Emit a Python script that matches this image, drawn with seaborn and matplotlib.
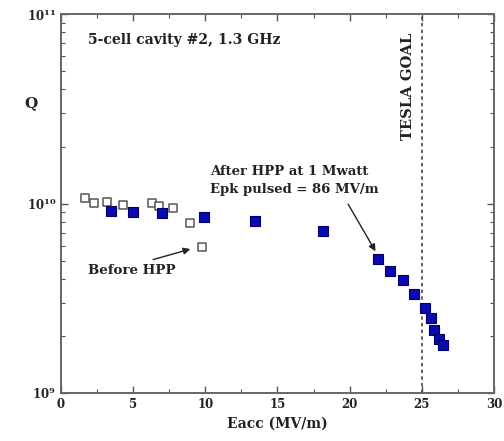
import numpy as np
import pandas as pd
import matplotlib
matplotlib.use("Agg")
import matplotlib.pyplot as plt
from matplotlib.ticker import MultipleLocator, LogLocator, FuncFormatter, NullFormatter
import seaborn as sns

# Accelerating gradient (MV/m) and quality factor Q
before_eacc = [1.66, 2.31, 3.17, 4.32, 6.29, 6.81, 7.78, 8.94, 9.75]
before_q = [1.065e10, 1.01e10, 1.02e10, 0.98e10, 1.01e10, 0.97e10, 0.944e10, 0.786e10, 0.586e10]

after_eacc = [3.44, 4.97, 6.98, 9.91, 13.44, 18.18, 21.99, 22.77, 23.67, 24.46,
              25.24, 25.66, 25.87, 26.22, 26.45]
after_q = [0.917e10, 0.906e10, 0.888e10, 0.845e10, 0.808e10, 0.719e10, 0.508e10,
           0.441e10, 0.393e10, 0.334e10, 0.282e10, 0.248e10, 0.214e10, 0.192e10, 0.180e10]

tesla_goal = 25.0
x_ticks = [0, 5, 10, 15, 20, 25, 30]

before = pd.DataFrame({"Eacc": before_eacc, "Q": before_q})
after = pd.DataFrame({"Eacc": after_eacc, "Q": after_q})

sns.set_style("ticks")
plt.rcParams["font.family"] = ["DejaVu Serif"]
plt.rcParams["font.weight"] = "bold"
plt.rcParams["mathtext.fontset"] = "dejavuserif"

TXT = "#222222"

fig = plt.figure(figsize=(5.04, 4.41), dpi=100)
ax = fig.add_axes([0.121, 0.109, 0.859, 0.859])

sns.scatterplot(data=before, x="Eacc", y="Q", ax=ax, marker="s", s=40,
                facecolor="white", edgecolor="#555555", linewidth=1.1, zorder=3)
sns.scatterplot(data=after, x="Eacc", y="Q", ax=ax, marker="s", s=44,
                color="#0a0ab0", edgecolor="#00006a", linewidth=0.8, zorder=4)

ax.set_yscale("log")
ax.set_xlim(0, 30)
ax.set_ylim(1e9, 1e11)

ax.axvline(tesla_goal, color="#444444", linestyle=(0, (2, 2)), linewidth=1.2, zorder=2)

ax.set_xticks(x_ticks)
ax.xaxis.set_minor_locator(MultipleLocator(2.5))
ax.yaxis.set_major_locator(LogLocator(base=10))
ax.yaxis.set_major_formatter(FuncFormatter(lambda v, p: r"$\mathbf{10^{%d}}$" % round(np.log10(v))))
ax.yaxis.set_minor_locator(LogLocator(base=10, subs=np.arange(2, 10)))
ax.yaxis.set_minor_formatter(NullFormatter())
ax.tick_params(which="both", direction="in", top=True, right=True, colors="#555555",
               labelcolor=TXT, labelsize=8.5)
ax.tick_params(which="major", length=5, width=1.0)
ax.tick_params(which="minor", length=3, width=0.8)
for sp in ax.spines.values():
    sp.set_color("#666666")
    sp.set_linewidth(1.4)

ax.set_xlabel("Eacc (MV/m)", fontsize=10, fontweight="bold", color=TXT, labelpad=4)
ax.set_ylabel("")
fig.text(31 / 504, 1 - 103 / 441, "Q", fontsize=11, fontweight="bold", ha="center",
         va="center", color=TXT)

ax.text(1.9, 10 ** 10.863, "5-cell cavity #2, 1.3 GHz", fontsize=10.1, fontweight="bold",
        color=TXT, va="center")
ax.text(24.05, 10 ** 10.617, "TESLA GOAL", rotation=90, fontsize=10.6, fontweight="bold",
        color=TXT, ha="center", va="center")
ax.text(10.3, 10 ** 10.168, "After HPP at 1 Mwatt", fontsize=9.5,
        fontweight="bold", color=TXT, va="center")
ax.text(10.3, 10 ** 10.075, "Epk pulsed = 86 MV/m", fontsize=9.5,
        fontweight="bold", color=TXT, va="center")
ax.annotate("", xy=(after_eacc[6] - 0.1, after_q[6] * 1.07), xytext=(19.8, 10 ** 10.0095),
            arrowprops=dict(arrowstyle="-|>", color=TXT, lw=1.0, mutation_scale=10))
ax.text(1.9, 10 ** 9.649, "Before HPP", fontsize=9.6, fontweight="bold", color=TXT,
        va="center")
ax.annotate("", xy=(before_eacc[8] - 0.6, before_q[8] * 0.99), xytext=(6.2, 10 ** 9.7),
            arrowprops=dict(arrowstyle="-|>", color=TXT, lw=1.0, mutation_scale=10))

fig.savefig("out.png", dpi=100)
